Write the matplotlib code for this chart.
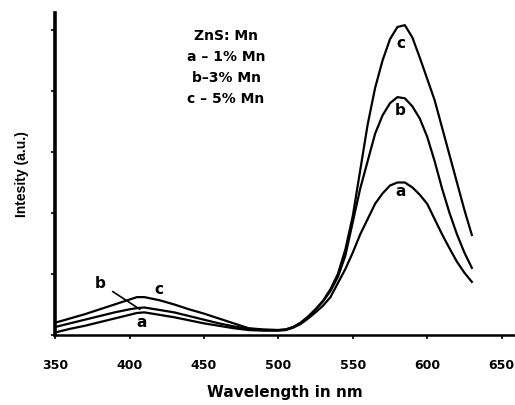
import matplotlib
matplotlib.use("Agg")
import matplotlib.pyplot as plt

# emission spectra of ZnS:Mn (intensity in tick units)
wavelength = [350, 360, 370, 380, 390, 400, 405, 410, 420, 430, 440, 450, 460, 470,
              480, 490, 500, 505, 510, 515, 520, 525, 530, 535, 540, 545, 550, 555,
              560, 565, 570, 575, 580, 585, 590, 595, 600, 605, 610, 615, 620, 625, 630]

mn_5 = [0.20, 0.27, 0.34, 0.42, 0.50, 0.58, 0.62, 0.62, 0.57, 0.50, 0.42, 0.35, 0.27, 0.19,
        0.11, 0.09, 0.08, 0.09, 0.13, 0.20, 0.30, 0.42, 0.56, 0.75, 1.00, 1.40, 1.95, 2.70,
        3.45, 4.05, 4.50, 4.85, 5.05, 5.08, 4.88, 4.55, 4.20, 3.85, 3.40, 2.95, 2.50, 2.05, 1.64]

mn_3 = [0.13, 0.19, 0.25, 0.31, 0.37, 0.42, 0.44, 0.45, 0.41, 0.37, 0.31, 0.25, 0.19, 0.14,
        0.10, 0.08, 0.08, 0.09, 0.13, 0.20, 0.30, 0.42, 0.55, 0.72, 0.95, 1.30, 1.85, 2.40,
        2.85, 3.30, 3.60, 3.80, 3.90, 3.88, 3.75, 3.55, 3.25, 2.85, 2.40, 2.00, 1.65, 1.35, 1.10]

mn_1 = [0.04, 0.10, 0.15, 0.21, 0.27, 0.33, 0.36, 0.37, 0.33, 0.29, 0.24, 0.19, 0.15, 0.11,
        0.08, 0.07, 0.07, 0.08, 0.12, 0.18, 0.27, 0.37, 0.48, 0.62, 0.85, 1.08, 1.35, 1.65,
        1.90, 2.15, 2.32, 2.45, 2.50, 2.50, 2.42, 2.30, 2.15, 1.90, 1.65, 1.42, 1.20, 1.02, 0.87]

x_ticks = [350, 400, 450, 500, 550, 600, 650]
y_ticks = [0, 1, 2, 3, 4, 5]
legend_lines = ["ZnS: Mn", "a \u2013 1% Mn", "b\u20133% Mn", "c \u2013 5% Mn"]

fig = plt.figure(figsize=(5.15, 4.05), dpi=100)
ax = fig.add_axes([0.107, 0.173, 0.893, 0.795])

for vals in (mn_5, mn_3, mn_1):
    ax.plot(wavelength, vals, color="black", lw=1.6)

ax.set_xlim(350, 659)
ax.set_ylim(0, 5.28)
ax.set_xticks(x_ticks)
ax.set_yticks(y_ticks)
ax.set_yticklabels([])
ax.tick_params(axis="x", length=3, width=1.2, labelsize=9, pad=14)
ax.tick_params(axis="y", length=3, width=1.2)
for lab in ax.get_xticklabels():
    lab.set_fontweight("bold")

ax.spines["top"].set_visible(False)
ax.spines["right"].set_visible(False)
ax.spines["left"].set_linewidth(2.6)
ax.spines["bottom"].set_linewidth(1.8)

ax.set_xlabel("Wavelength in nm", fontsize=11, fontweight="bold", labelpad=10)
ax.set_ylabel("Intesity (a.u.)", fontsize=10, fontweight="bold",
              family="Liberation Sans", labelpad=12)

# composition block
for i, line in enumerate(legend_lines):
    fig.text(226 / 515, 1 - (36 + i * 21) / 405, line, ha="center", va="center",
             fontsize=10, fontweight="bold")

# curve labels
lbl = dict(ha="center", va="center", fontsize=11, fontweight="bold")
ax.text(582, 4.78, "c", **lbl)
ax.text(582, 3.68, "b", **lbl)
ax.text(582, 2.35, "a", **lbl)
ax.text(420, 0.75, "c", **lbl)
ax.text(408, 0.2, "a", **lbl)
ax.annotate("b", xy=(407, 0.42), xytext=(380, 0.85), ha="center", va="center",
            fontsize=11, fontweight="bold",
            arrowprops=dict(arrowstyle="-", color="black", lw=1.2, shrinkA=4, shrinkB=0))

fig.savefig("out.png", dpi=100)
